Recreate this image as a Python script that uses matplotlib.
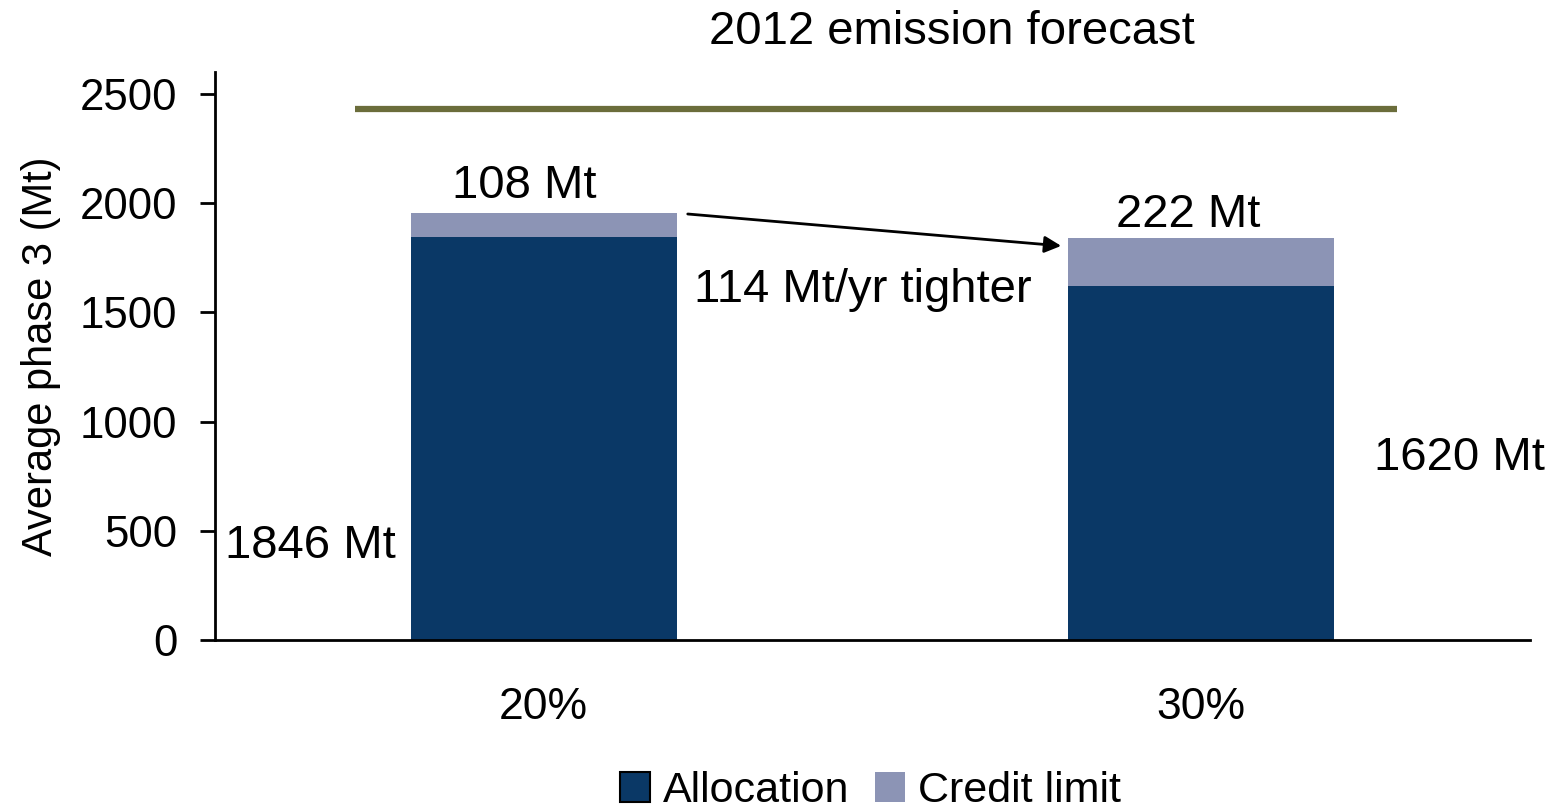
import numpy as np
import matplotlib.pyplot as plt
from matplotlib.patches import Patch

plt.rcParams['font.family'] = ['Liberation Sans', 'DejaVu Sans']

# phase 3 caps under the two reduction targets
targets = ['20%', '30%']
allocation = [1846, 1620]
credit_limit = [108, 222]
forecast_2012 = 2430

c_alloc = '#0a3866'
c_credit = '#8c94b5'
c_line = '#6b6d3b'

fig = plt.figure(figsize=(15.63, 8.10), dpi=100)
ax = fig.add_axes([215 / 1563, 1 - 640 / 810, (1530 - 215) / 1563, (640 - 72) / 810])

x = np.arange(len(targets))
w = 0.404
ax.bar(x, allocation, w, color=c_alloc)
ax.bar(x, credit_limit, w, bottom=allocation, color=c_credit)

# 2012 emission forecast level
ax.plot([-0.287, 1.298], [forecast_2012, forecast_2012], color=c_line, lw=4.5,
        solid_capstyle='butt')

ax.set_xlim(-0.5, 1.5)
ax.set_ylim(0, 2600)
ax.set_yticks(np.arange(0, 2501, 500))
ax.set_xticks(x)
ax.set_xticklabels(targets)
ax.tick_params(axis='x', length=0, pad=34, labelsize=32)
ax.tick_params(axis='y', length=11, width=2, direction='out', labelsize=31.5, pad=16)
for s in ['top', 'right']:
    ax.spines[s].set_visible(False)
for s in ['left', 'bottom']:
    ax.spines[s].set_linewidth(2)
ax.set_ylabel('Average phase 3 (Mt)', fontsize=30, labelpad=14)

fs = 34
ax.text(0.62, 2785, '2012 emission forecast', ha='center', va='center', fontsize=fs,
        clip_on=False)
ax.text(-0.03, credit_limit[0] + allocation[0] + 125, f'{credit_limit[0]} Mt',
        ha='center', va='center', fontsize=fs)
ax.text(0.98, allocation[1] + credit_limit[1] + 105, f'{credit_limit[1]} Mt',
        ha='center', va='center', fontsize=fs)
ax.text(0.228, 1600, '114 Mt/yr tighter', ha='left', va='center', fontsize=fs)
ax.text(-0.485, 430, f'{allocation[0]} Mt', ha='left', va='center', fontsize=fs)
ax.text(1.263, 835, f'{allocation[1]} Mt', ha='left', va='center', fontsize=fs,
        clip_on=False)

ax.annotate('', xy=(0.787, 1804), xytext=(0.219, 1950),
            arrowprops=dict(arrowstyle='-|>', color='black', lw=2,
                            mutation_scale=25, shrinkA=0, shrinkB=0))

handles = [Patch(facecolor=c_alloc, edgecolor='black', lw=1.5, label='Allocation'),
           Patch(facecolor=c_credit, edgecolor='none', label='Credit limit')]
fig.legend(handles=handles, loc='center', bbox_to_anchor=(0.557, 1 - 791 / 810),
           ncol=2, frameon=False, fontsize=31, handlelength=0.7, handleheight=0.7,
           handletextpad=0.3, columnspacing=0.6, borderaxespad=0, borderpad=0)

fig.savefig('out.png', dpi=100)
